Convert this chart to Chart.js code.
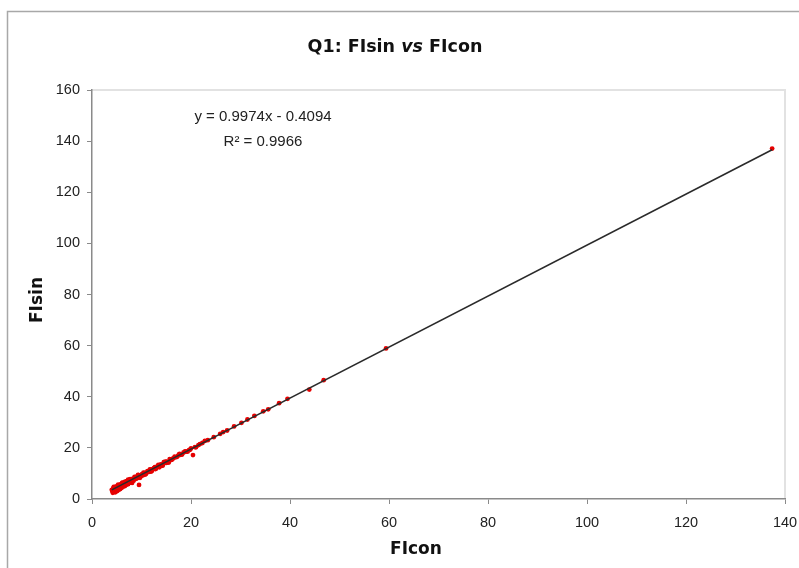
<!DOCTYPE html>
<html>
<head>
<meta charset="utf-8">
<script src="https://cdn.jsdelivr.net/npm/chart.js@4.4.1/dist/chart.umd.min.js"></script>
<style>
  html, body { margin: 0; padding: 0; background: #fff; overflow: hidden; }
  #wrap { width: 799px; height: 568px; position: relative; }
</style>
</head>
<body>
<div id="wrap"><canvas id="scatterChart" width="799" height="568"></canvas></div>
<script>
// ================= DATA =================
const ficon = [4.1, 4.2, 4.3, 4.4, 4.5, 4.6, 4.7, 4.8, 4.9, 5.0, 5.1, 5.2, 5.3, 5.4, 5.5, 5.6, 5.7, 5.8, 5.9, 6.0,
    6.1, 6.2, 6.3, 6.4, 6.5, 6.6, 6.7, 6.8, 6.9, 7.0, 7.2, 7.3, 7.5, 7.6, 7.8, 8.0, 8.1, 8.3, 8.5, 8.7,
    8.9, 9.0, 9.2, 9.5, 9.6, 9.8, 10.1, 10.3, 10.6, 10.9, 11.2, 11.5, 11.8, 12.1, 12.5, 12.8, 13.2, 13.6, 13.9, 14.3,
    14.7, 15.1, 15.5, 15.9, 16.4, 16.9, 17.4, 17.9, 18.5, 19.0, 19.6, 20.4, 20.8, 21.5, 22.3, 23.4, 24.6, 25.9, 27.3, 28.7,
    30.2, 31.4, 32.8, 34.6, 35.6, 37.8, 39.5, 43.9, 46.8, 59.4, 137.4,
    4.0, 4.3, 4.6, 4.9, 5.2, 5.5, 5.8, 6.1, 6.4, 6.7, 7.1, 7.4, 7.7, 8.2, 8.6, 9.1, 9.4, 9.9, 10.4, 10.8,
    11.3, 11.7, 12.3, 12.7, 13.0, 13.4, 14.0, 14.5, 15.0, 15.7, 16.2, 16.7, 17.2, 17.7, 18.2, 18.8, 19.3, 20.0, 21.0, 21.8,
    4.4, 4.8, 5.3, 5.7, 6.2, 6.6, 7.3, 7.9, 8.8, 9.3, 10.0, 11.0, 12.0, 13.3, 14.8, 16.0, 17.6, 19.8, 22.8, 26.5,
    4.2, 4.6, 5.1, 5.6, 6.0, 6.5, 7.0, 7.7, 8.4, 9.7, 10.7, 11.9, 12.9, 14.1, 15.4];
const fisin = [3.2, 2.4, 3.9, 2.9, 4.4, 3.5, 2.6, 4.8, 3.8, 4.2, 3.1, 5.0, 4.5, 3.6, 5.3, 4.7, 3.9, 5.6, 5.1, 4.4,
    6.0, 5.5, 4.9, 6.2, 5.8, 5.2, 6.6, 6.1, 5.6, 6.9, 6.4, 5.8, 7.2, 6.7, 7.5, 7.0, 6.3, 8.0, 7.6, 8.3,
    7.9, 8.7, 8.2, 5.5, 9.2, 8.8, 9.7, 9.3, 10.2, 9.8, 10.9, 10.6, 11.4, 11.0, 12.1, 11.7, 12.8, 12.4, 13.5, 13.1,
    14.2, 14.6, 14.3, 15.4, 15.9, 16.3, 17.0, 17.3, 18.2, 18.5, 19.1, 17.2, 20.3, 21.1, 21.9, 23.0, 24.2, 25.5, 26.8, 28.4,
    29.8, 31.1, 32.5, 34.3, 35.1, 37.5, 39.2, 42.8, 46.5, 58.9, 137.1,
    3.6, 4.2, 4.3, 4.6, 5.3, 5.0, 5.7, 6.3, 5.9, 6.8, 7.0, 6.9, 7.8, 7.6, 8.6, 8.4, 9.3, 9.1, 10.3, 10.0,
    10.7, 11.6, 11.6, 12.5, 12.2, 13.3, 13.2, 14.4, 14.1, 15.6, 15.5, 16.6, 16.5, 17.6, 17.4, 18.6, 18.5, 19.8, 20.2, 21.5,
    4.7, 3.4, 5.6, 4.1, 6.4, 5.0, 7.6, 7.0, 8.1, 9.4, 9.2, 10.3, 11.5, 12.7, 14.6, 15.3, 17.4, 19.3, 22.7, 26.2,
    2.8, 3.3, 3.8, 4.3, 4.8, 5.1, 5.7, 6.4, 7.1, 8.3, 9.5, 10.7, 11.8, 13.0, 14.3];

const slope = 0.9974;
const intercept = -0.4094;
const trendRange = [4.0, 137.4];

const xTicks = [0, 20, 40, 60, 80, 100, 120, 140];
const yTicks = [0, 20, 40, 60, 80, 100, 120, 140, 160];

const points = ficon.map((x, i) => ({ x: x, y: fisin[i] }));
const trend = trendRange.map(x => ({ x: x, y: slope * x + intercept }));

// ================= DECORATION =================
const decorPlugin = {
    id: 'decor',
    beforeDraw(chart) {
        const ctx = chart.ctx;
        const a = chart.chartArea;
        ctx.save();
        // outer frame
        ctx.strokeStyle = '#a8a8a8';
        ctx.lineWidth = 1.5;
        ctx.beginPath();
        ctx.moveTo(7.5, 600);
        ctx.lineTo(7.5, 11.5);
        ctx.lineTo(810, 11.5);
        ctx.stroke();
        // plot frame (top / right)
        ctx.strokeStyle = '#e2e2e2';
        ctx.lineWidth = 2;
        ctx.beginPath();
        ctx.moveTo(a.left, a.top);
        ctx.lineTo(a.right, a.top);
        ctx.lineTo(a.right, a.bottom);
        ctx.stroke();
        ctx.restore();
    },
    afterDraw(chart) {
        const ctx = chart.ctx;
        ctx.save();
        ctx.fillStyle = '#111';
        ctx.textBaseline = 'middle';

        // title with italic "vs"
        const parts = [
            ['Q1: FIsin ', 'bold 17.5px "DejaVu Sans"'],
            ['vs', 'italic bold 17.5px "DejaVu Sans"'],
            [' FIcon', 'bold 17.5px "DejaVu Sans"']
        ];
        let total = 0;
        parts.forEach(p => { ctx.font = p[1]; total += ctx.measureText(p[0]).width; });
        let x = 395 - total / 2;
        ctx.textAlign = 'left';
        parts.forEach(p => {
            ctx.font = p[1];
            ctx.fillText(p[0], x, 47);
            x += ctx.measureText(p[0]).width;
        });

        // axis titles
        ctx.font = 'bold 17px "DejaVu Sans"';
        ctx.textAlign = 'center';
        ctx.fillText('FIcon', 416, 550);
        ctx.save();
        ctx.translate(38, 300);
        ctx.rotate(-Math.PI / 2);
        ctx.fillText('FIsin', 0, 0);
        ctx.restore();

        // regression equation
        ctx.font = '15px "Liberation Sans"';
        ctx.fillStyle = '#222';
        ctx.fillText('y = ' + slope + 'x - ' + Math.abs(intercept), 263, 117);
        ctx.fillText('R\u00B2 = 0.9966', 263, 142);
        ctx.restore();
    }
};

// ================= CHART =================
const tickFont = { family: 'Liberation Sans', size: 14.5 };

new Chart(document.getElementById('scatterChart'), {
    type: 'scatter',
    data: {
        datasets: [
            {
                type: 'line',
                data: trend,
                borderColor: '#2a2a2a',
                borderWidth: 1.6,
                pointRadius: 0,
                fill: false,
                order: 0
            },
            {
                data: points,
                backgroundColor: '#e60000',
                borderColor: '#e60000',
                pointRadius: 2.4,
                pointBorderWidth: 0,
                order: 1
            }
        ]
    },
    options: {
        responsive: false,
        animation: false,
        layout: { padding: { top: 90, right: 14, left: 0, bottom: 0 } },
        plugins: {
            legend: { display: false },
            tooltip: { enabled: false }
        },
        scales: {
            x: {
                type: 'linear',
                min: 0,
                max: 140,
                afterBuildTicks: s => { s.ticks = xTicks.map(v => ({ value: v })); },
                afterFit: s => { s.height = 69; s.paddingRight = 0; s.paddingLeft = 0; },
                border: { color: '#8a8a8a', width: 1.5 },
                grid: { drawOnChartArea: false, drawTicks: true, tickLength: 5, color: '#8a8a8a' },
                ticks: { font: tickFont, color: '#222', padding: 10, maxRotation: 0 }
            },
            y: {
                type: 'linear',
                min: 0,
                max: 160,
                afterBuildTicks: s => { s.ticks = yTicks.map(v => ({ value: v })); },
                afterFit: s => { s.width = 92; s.paddingTop = 0; s.paddingBottom = 0; },
                border: { color: '#8a8a8a', width: 1.5 },
                grid: { drawOnChartArea: false, drawTicks: true, tickLength: 5, color: '#8a8a8a' },
                ticks: { font: tickFont, color: '#222', padding: 7 }
            }
        }
    },
    plugins: [decorPlugin]
});
</script>
</body>
</html>
